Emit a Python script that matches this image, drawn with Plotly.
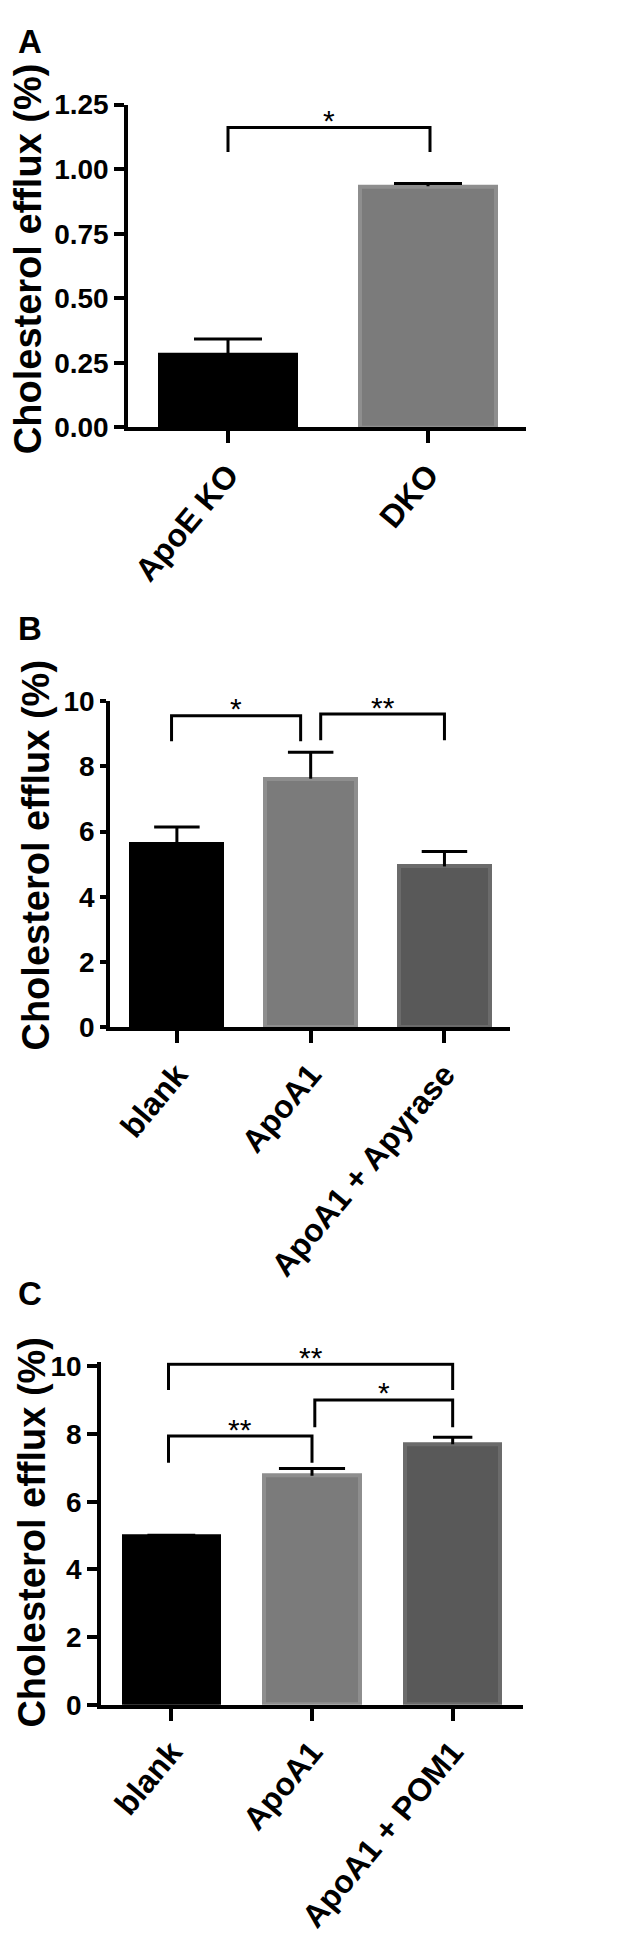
import plotly.graph_objects as go

# ---------------- data ----------------
a_cats = ["ApoE KO", "DKO"]
a_vals = [0.28, 0.934]
a_errs = [0.063, 0.011]
a_ticks = [0, 0.25, 0.5, 0.75, 1.0, 1.25]
a_ticklabels = ["0.00", "0.25", "0.50", "0.75", "1.00", "1.25"]

b_cats = ["blank", "ApoA1", "ApoA1 + Apyrase"]
b_vals = [5.63, 7.62, 4.93]
b_errs = [0.51, 0.81, 0.46]

c_cats = ["blank", "ApoA1", "ApoA1 + POM1"]
c_vals = [4.97, 6.77, 7.70]
c_errs = [0.04, 0.21, 0.21]

bc_ticks = [0, 2, 4, 6, 8, 10]
bc_ticklabels = ["0", "2", "4", "6", "8", "10"]

# significance brackets: (x_left, x_right, leg_bottom, bar_height, label)
a_sig = [(0.0, 1.01, 1.067, 1.162, "*")]
b_sig = [(-0.04, 0.925, 8.77, 9.55, "*"), (1.075, 2.0, 8.8, 9.6, "**")]
c_sig = [(-0.02, 2.0, 9.3, 10.06, "**"), (-0.02, 1.0, 7.15, 7.94, "**"),
         (1.02, 2.0, 8.2, 9.01, "*")]

y_title = "Cholesterol efflux (%)"

# ---------------- styles ----------------
FONT = "Liberation Sans, Arial, sans-serif"
fills = ["#000000", "#7b7b7b", "#595959"]
edges = ["#000000", "#8e8e8e", "#6b6b6b"]
W, H = 642, 1948

fig = go.Figure()

panels = [
    dict(cats=a_cats, vals=a_vals, errs=a_errs, sig=a_sig, xa="x", ya="y",
         caps=[0.17, 0.17], xr=[-0.5, 1.49], yr=[0, 1.25],
         ticks=a_ticks, labels=a_ticklabels, ylen=10,
         xdom=[120 / W, 518 / W], ydom=[(H - 411) / H, (H - 83) / H],
         letter="A", letter_y=-2, title_y=240, title_x=20),
    dict(cats=b_cats, vals=b_vals, errs=b_errs, sig=b_sig, xa="x2", ya="y2",
         caps=[0.17, 0.17, 0.17], xr=[-0.5, 2.49], yr=[0, 10],
         ticks=bc_ticks, labels=bc_ticklabels, ylen=6,
         xdom=[102 / W, 502 / W], ydom=[(H - 1020.5) / H, (H - 689) / H],
         letter="B", letter_y=594, title_y=846, title_x=28),
    dict(cats=c_cats, vals=c_vals, errs=c_errs, sig=c_sig, xa="x3", ya="y3",
         caps=[0.17, 0.235, 0.14], xr=[-0.5, 2.5], yr=[0, 10.12],
         ticks=bc_ticks, labels=bc_ticklabels, ylen=10,
         xdom=[93 / W, 515 / W], ydom=[(H - 1709) / H, (H - 1361) / H],
         letter="C", letter_y=1270, title_y=1534, title_x=24),
]

shapes = []
annotations = []

for k, p in enumerate(panels):
    n = len(p["cats"])
    idx = list(range(n))
    fig.add_trace(go.Bar(
        x=idx, y=p["vals"], width=0.68,
        marker=dict(color=fills[:n], line=dict(color=edges[:n], width=4)),
        xaxis=p["xa"], yaxis=p["ya"], showlegend=False, hoverinfo="skip"))
    # error bars (upper only), built from values + errors
    ex, ey = [], []
    for i, (v, e) in enumerate(zip(p["vals"], p["errs"])):
        cw = p["caps"][i]
        ex += [i - cw, i + cw, None, i, i, None]
        ey += [v + e, v + e, None, v + e, v, None]
    fig.add_trace(go.Scatter(
        x=ex, y=ey, mode="lines", line=dict(color="black", width=3),
        xaxis=p["xa"], yaxis=p["ya"], showlegend=False, hoverinfo="skip"))
    # significance brackets
    for (x0, x1, yb, yt, lab) in p["sig"]:
        shapes.append(dict(
            type="path", xref=p["xa"], yref=p["ya"],
            path=f"M {x0},{yb} L {x0},{yt} L {x1},{yt} L {x1},{yb}",
            line=dict(color="black", width=3)))
        annotations.append(dict(
            x=(x0 + x1) / 2, y=yt, xref=p["xa"], yref=p["ya"], text=lab,
            showarrow=False, yanchor="middle", yshift=7,
            font=dict(family=FONT, size=30, color="black")))
    # panel letter
    annotations.append(dict(
        x=8 / W, y=1 - p["letter_y"] / H, xref="paper", yref="paper",
        text=f"<b>{p['letter']}</b>", showarrow=False, xanchor="left", yanchor="top",
        font=dict(family=FONT, size=33, color="black")))
    # y-axis title
    annotations.append(dict(
        x=p["title_x"] / W, y=1 - p["title_y"] / H, xref="paper", yref="paper",
        text=f"<b>{y_title}</b>", showarrow=False, textangle=-90,
        xanchor="center", yanchor="middle",
        font=dict(family=FONT, size=38, color="black")))

    sfx = "" if k == 0 else str(k + 1)
    fig.update_layout(**{
        f"xaxis{sfx}": dict(
            domain=p["xdom"], range=p["xr"], anchor=p["ya"],
            tickvals=idx, ticktext=[f"<b>{c}</b>" for c in p["cats"]],
            tickangle=-50, ticks="outside", ticklen=12, tickwidth=3.5,
            tickcolor="black", showline=True, linecolor="black", linewidth=3.5,
            showgrid=False, zeroline=False,
            tickfont=dict(family=FONT, size=32, color="black"), fixedrange=True),
        f"yaxis{sfx}": dict(
            domain=p["ydom"], range=p["yr"], anchor=p["xa"],
            tickvals=p["ticks"], ticktext=[f"<b>{t}</b>" for t in p["labels"]],
            ticks="outside", ticklen=p["ylen"], tickwidth=3.5, tickcolor="black",
            showline=True, linecolor="black", linewidth=3.5,
            showgrid=False, zeroline=False,
            tickfont=dict(family=FONT, size=28, color="black"), fixedrange=True),
    })

fig.update_layout(
    width=W, height=H, margin=dict(l=0, r=0, t=0, b=0),
    paper_bgcolor="white", plot_bgcolor="white",
    shapes=shapes, annotations=annotations, bargap=0,
    font=dict(family=FONT, color="black"),
)

fig.write_html("out.html")
